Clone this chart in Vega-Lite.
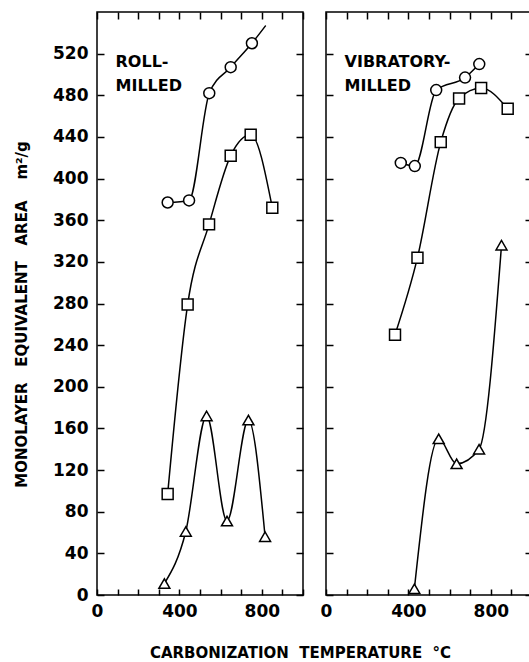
{
  "$schema": "https://vega.github.io/schema/vega-lite/v6.json",
  "padding": {"left": 13, "top": 10, "right": 0, "bottom": 0},
  "background": "white",
  "bounds": "flush",
  "config": {
    "view": {"stroke": "black", "strokeWidth": 1.5},
    "font": "DejaVu Sans",
    "axis": {"domain": false, "grid": false, "tickColor": "black", "labelColor": "black", "titleColor": "black", "labelFont": "DejaVu Sans", "labelFontWeight": "bold", "labelFontSize": 17, "titleFont": "DejaVu Sans", "titleFontWeight": "bold", "titleFontSize": 15, "tickWidth": 1.5}
  },
  "datasets": {
    "pts": [
      {"panel": "roll", "series": "circle", "t": 343, "area": 377, "marker": true},
      {"panel": "roll", "series": "circle", "t": 447, "area": 379, "marker": true},
      {"panel": "roll", "series": "circle", "t": 545, "area": 482, "marker": true},
      {"panel": "roll", "series": "circle", "t": 649, "area": 507, "marker": true},
      {"panel": "roll", "series": "circle", "t": 752, "area": 530, "marker": true},
      {"panel": "roll", "series": "circle", "t": 819, "area": 547, "marker": false},
      {"panel": "roll", "series": "square", "t": 343, "area": 97, "marker": true},
      {"panel": "roll", "series": "square", "t": 440, "area": 279, "marker": true},
      {"panel": "roll", "series": "square", "t": 544, "area": 356, "marker": true},
      {"panel": "roll", "series": "square", "t": 649, "area": 422, "marker": true},
      {"panel": "roll", "series": "square", "t": 746, "area": 442, "marker": true},
      {"panel": "roll", "series": "square", "t": 851, "area": 372, "marker": true},
      {"panel": "roll", "series": "triangle", "t": 327, "area": 11, "marker": true},
      {"panel": "roll", "series": "triangle", "t": 431, "area": 61, "marker": true},
      {"panel": "roll", "series": "triangle", "t": 532, "area": 172, "marker": true},
      {"panel": "roll", "series": "triangle", "t": 631, "area": 71, "marker": true},
      {"panel": "roll", "series": "triangle", "t": 735, "area": 168, "marker": true},
      {"panel": "roll", "series": "triangle", "t": 816, "area": 56, "marker": true},
      {"panel": "vib", "series": "circle", "t": 363, "area": 415, "marker": true},
      {"panel": "vib", "series": "circle", "t": 431, "area": 412, "marker": true},
      {"panel": "vib", "series": "circle", "t": 535, "area": 485, "marker": true},
      {"panel": "vib", "series": "circle", "t": 675, "area": 497, "marker": true},
      {"panel": "vib", "series": "circle", "t": 744, "area": 510, "marker": true},
      {"panel": "vib", "series": "square", "t": 335, "area": 250, "marker": true},
      {"panel": "vib", "series": "square", "t": 444, "area": 324, "marker": true},
      {"panel": "vib", "series": "square", "t": 557, "area": 435, "marker": true},
      {"panel": "vib", "series": "square", "t": 646, "area": 477, "marker": true},
      {"panel": "vib", "series": "square", "t": 753, "area": 487, "marker": true},
      {"panel": "vib", "series": "square", "t": 882, "area": 467, "marker": true},
      {"panel": "vib", "series": "triangle", "t": 429, "area": 6, "marker": true},
      {"panel": "vib", "series": "triangle", "t": 547, "area": 150, "marker": true},
      {"panel": "vib", "series": "triangle", "t": 634, "area": 126, "marker": true},
      {"panel": "vib", "series": "triangle", "t": 743, "area": 140, "marker": true},
      {"panel": "vib", "series": "triangle", "t": 852, "area": 336, "marker": true}
    ],
    "txt": [
      {"panel": "roll", "t": 90, "area": 512, "label": "ROLL-"},
      {"panel": "roll", "t": 90, "area": 489, "label": "MILLED"},
      {"panel": "vib", "t": 90, "area": 512, "label": "VIBRATORY-"},
      {"panel": "vib", "t": 90, "area": 489, "label": "MILLED"}
    ]
  },
  "spacing": 23,
  "hconcat": [
    {
      "width": 206,
      "height": 583,
      "layer": [
        {
          "data": {"name": "pts"},
          "transform": [{"filter": "datum.panel === 'roll'"}],
          "mark": {"type": "line", "interpolate": "monotone", "color": "black", "strokeWidth": 1.5},
          "encoding": {
            "x": {"field": "t", "type": "quantitative", "scale": {"domain": [0, 1000], "nice": false},
              "axis": {"orient": "bottom", "values": [0,100,200,300,400,500,600,700,800,900,1000], "tickSize": -6, "labelPadding": 14, "labelExpr": "datum.value % 400 === 0 ? datum.label : ''", "labelFlush": false, "title": "CARBONIZATION\u00a0\u00a0TEMPERATURE\u00a0\u00a0°C", "titleX": 203, "titleY": 57, "titleAnchor": null, "titleAlign": "center", "titleBaseline": "middle"}},
            "y": {"field": "area", "type": "quantitative", "scale": {"domain": [0, 560], "nice": false},
              "axis": {"orient": "left", "values": [0,40,80,120,160,200,240,280,320,360,400,440,480,520], "tickSize": -7, "labelPadding": 16, "title": "MONOLAYER\u00a0\u00a0\u00a0EQUIVALENT\u00a0\u00a0\u00a0AREA\u00a0\u00a0\u00a0\u00a0m²/g", "titleX": -76, "titleY": 302, "titleAngle": -90, "titleAlign": "center", "titleBaseline": "middle"}},
            "detail": {"field": "series"}
          }
        },
        {
          "data": {"name": "pts"},
          "transform": [{"filter": "datum.panel === 'roll' && datum.marker"}],
          "mark": {"type": "point", "filled": true, "fill": "white", "stroke": "black", "strokeWidth": 1.5, "size": 120, "opacity": 1},
          "encoding": {
            "x": {"field": "t", "type": "quantitative", "axis": {"orient": "top", "values": [0,100,200,300,400,500,600,700,800,900,1000], "tickSize": -7, "labels": false, "title": null}},
            "y": {"field": "area", "type": "quantitative", "axis": {"orient": "right", "values": [0,40,80,120,160,200,240,280,320,360,400,440,480,520], "tickSize": -7, "labels": false, "title": null}},
            "shape": {"field": "series", "type": "nominal", "scale": {"domain": ["circle", "square", "triangle"], "range": ["circle", "square", "triangle-up"]}, "legend": null}
          }
        },
        {
          "data": {"name": "txt"},
          "transform": [{"filter": "datum.panel === 'roll'"}],
          "mark": {"type": "text", "align": "left", "baseline": "middle", "font": "DejaVu Sans", "fontWeight": "bold", "fontSize": 16, "color": "black"},
          "encoding": {
            "x": {"field": "t", "type": "quantitative", "axis": null},
            "y": {"field": "area", "type": "quantitative", "axis": null},
            "text": {"field": "label"}
          }
        }
      ],
      "resolve": {"axis": {"x": "independent", "y": "independent"}}
    },
    {
      "width": 206,
      "height": 583,
      "layer": [
        {
          "data": {"name": "pts"},
          "transform": [{"filter": "datum.panel === 'vib'"}],
          "mark": {"type": "line", "interpolate": "monotone", "color": "black", "strokeWidth": 1.5},
          "encoding": {
            "x": {"field": "t", "type": "quantitative", "scale": {"domain": [0, 1000], "nice": false},
              "axis": {"orient": "bottom", "values": [0,100,200,300,400,500,600,700,800,900,1000], "tickSize": -6, "labelPadding": 14, "labelExpr": "datum.value % 400 === 0 ? datum.label : ''", "labelFlush": false, "title": null}},
            "y": {"field": "area", "type": "quantitative", "scale": {"domain": [0, 560], "nice": false},
              "axis": {"orient": "left", "values": [0,40,80,120,160,200,240,280,320,360,400,440,480,520], "tickSize": -7, "labels": false, "title": null}},
            "detail": {"field": "series"}
          }
        },
        {
          "data": {"name": "pts"},
          "transform": [{"filter": "datum.panel === 'vib' && datum.marker"}],
          "mark": {"type": "point", "filled": true, "fill": "white", "stroke": "black", "strokeWidth": 1.5, "size": 120, "opacity": 1},
          "encoding": {
            "x": {"field": "t", "type": "quantitative", "axis": {"orient": "top", "values": [0,100,200,300,400,500,600,700,800,900,1000], "tickSize": -7, "labels": false, "title": null}},
            "y": {"field": "area", "type": "quantitative", "axis": {"orient": "right", "values": [0,40,80,120,160,200,240,280,320,360,400,440,480,520], "tickSize": -7, "labels": false, "title": null}},
            "shape": {"field": "series", "type": "nominal", "scale": {"domain": ["circle", "square", "triangle"], "range": ["circle", "square", "triangle-up"]}, "legend": null}
          }
        },
        {
          "data": {"name": "txt"},
          "transform": [{"filter": "datum.panel === 'vib'"}],
          "mark": {"type": "text", "align": "left", "baseline": "middle", "font": "DejaVu Sans", "fontWeight": "bold", "fontSize": 16, "color": "black"},
          "encoding": {
            "x": {"field": "t", "type": "quantitative", "axis": null},
            "y": {"field": "area", "type": "quantitative", "axis": null},
            "text": {"field": "label"}
          }
        }
      ],
      "resolve": {"axis": {"x": "independent", "y": "independent"}}
    }
  ]
}
